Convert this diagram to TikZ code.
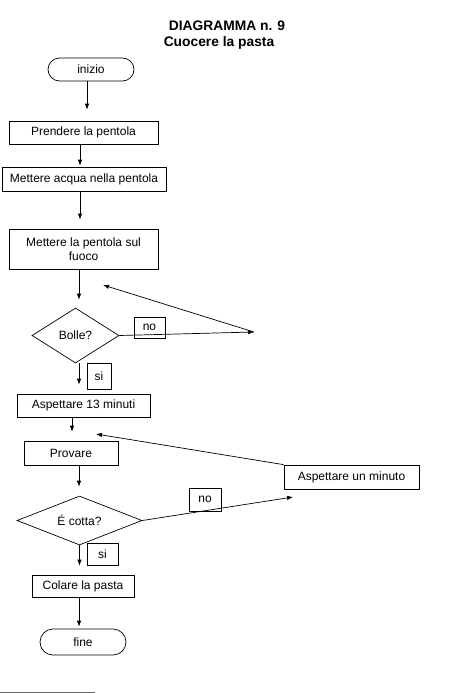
\documentclass[tikz,border=0pt]{standalone}
\usepackage{fontspec}
\setmainfont{Liberation Sans}
\usetikzlibrary{arrows.meta,shapes.geometric,shapes.misc}

\begin{document}
\begin{tikzpicture}[x=1pt, y=-1pt,
		testo/.style={font=\fontsize{12}{14}\selectfont},
		passo/.style={testo, draw, line width=0.7pt, rectangle, inner sep=0pt},
		terminale/.style={testo, draw, line width=0.7pt, rounded rectangle, inner sep=0pt},
		scelta/.style={testo, draw, line width=0.7pt, diamond, inner sep=0pt},
		etichetta/.style={testo, draw, line width=0.7pt, inner sep=0pt},
		freccia/.style={line width=0.7pt, -{Latex[length=6pt,width=4.5pt]}}]
			%%%%% START %%%%%
			\useasboundingbox (0,0) rectangle (450,693);
			
			\node[font=\bfseries\fontsize{13.8}{16}\selectfont] (titolo) at (227,26) {DIAGRAMMA n. 9};
			\node[font=\bfseries\fontsize{13.8}{16}\selectfont] (sottotitolo) at (219,43) {Cuocere la pasta};
			
			\node[terminale, minimum width=86pt, minimum height=23pt] (inizio) at (91,69.5) {inizio};
			\node[passo, minimum width=149pt, minimum height=23pt] (prendere) at (83.5,132.5) {Prendere la pentola};
			\node[passo, minimum width=164pt, minimum height=24pt] (acqua) at (84,179) {Mettere acqua nella pentola};
			\node[passo, minimum width=149pt, minimum height=40pt, align=center] (fuoco) at (83.5,249) {Mettere la pentola sul\\fuoco};
			\node[scelta, minimum width=87pt, minimum height=55pt, shape aspect=1.6] (bolle) at (75.5,335.5) {Bolle?};
			\node[passo, minimum width=133pt, minimum height=23pt] (tredici) at (83.5,405.5) {Aspettare 13 minuti};
			\node[passo, minimum width=94pt, minimum height=24pt] (provare) at (71,453) {Provare};
			\node[scelta, minimum width=125pt, minimum height=49pt, shape aspect=2.5] (cotta) at (79.5,520.5) {É cotta?};
			\node[passo, minimum width=102pt, minimum height=22pt] (colare) at (83,586) {Colare la pasta};
			\node[terminale, minimum width=86pt, minimum height=26pt] (fine) at (83,642) {fine};
			\node[passo, minimum width=135pt, minimum height=24pt] (minuto) at (351.5,477) {Aspettare un minuto};
			
			\node[etichetta, minimum width=31pt, minimum height=21pt] (no1) at (149.5,327.5) {no};
			\node[etichetta, minimum width=24pt, minimum height=26pt] (si1) at (99,376) {si};
			\node[etichetta, minimum width=32pt, minimum height=23pt] (no2) at (205,499.5) {no};
			\node[etichetta, minimum width=31pt, minimum height=22pt] (si2) at (102.5,554) {si};
			
			\coordinate (giro1) at (254,332);
			\coordinate (rientro1) at (103,285);
			\coordinate (giro2) at (293,497);
			\coordinate (rientro2) at (96,434);
			
			\draw[freccia, shorten >=11pt] ([xshift=-4pt]inizio.south) -- ([xshift=-4pt]inizio.south |- prendere.north);
			\draw[freccia, shorten >=1pt] ([xshift=-3.5pt]prendere.south) -- ([xshift=-3.5pt]prendere.south |- acqua.north);
			\draw[freccia, shorten >=9pt] ([xshift=-4pt]acqua.south) -- ([xshift=-4pt]acqua.south |- fuoco.north);
			\draw[freccia, shorten >=8pt] ([xshift=-4.5pt]fuoco.south) -- ([xshift=-4.5pt]fuoco.south |- bolle.north);
			\draw[freccia, shorten >=9pt] ([xshift=3.5pt]bolle.south) -- ([xshift=3.5pt]bolle.south |- tredici.north);
			\draw[freccia, shorten >=9pt] ([xshift=-11.5pt]tredici.south) -- ([xshift=-11.5pt]tredici.south |- provare.north);
			\draw[freccia, shorten >=9pt] ([xshift=8pt]provare.south) -- ([xshift=8pt]provare.south |- cotta.north);
			\draw[freccia, shorten >=9pt] (cotta.south) -- (cotta.south |- colare.north);
			\draw[freccia, shorten >=2pt] ([xshift=-4pt]colare.south) -- ([xshift=-4pt]colare.south |- fine.north);
			
			\draw[freccia] (bolle.east) -- (giro1);
			\draw[freccia] (giro1) -- (rientro1);
			\draw[freccia] (cotta.east) -- (giro2);
			\draw[freccia] (minuto.north west) -- (rientro2);
			
			\draw[line width=0.8pt, black!60] (0,692) -- (95,692);
			%%%%% END %%%%%
\end{tikzpicture}
\end{document}
